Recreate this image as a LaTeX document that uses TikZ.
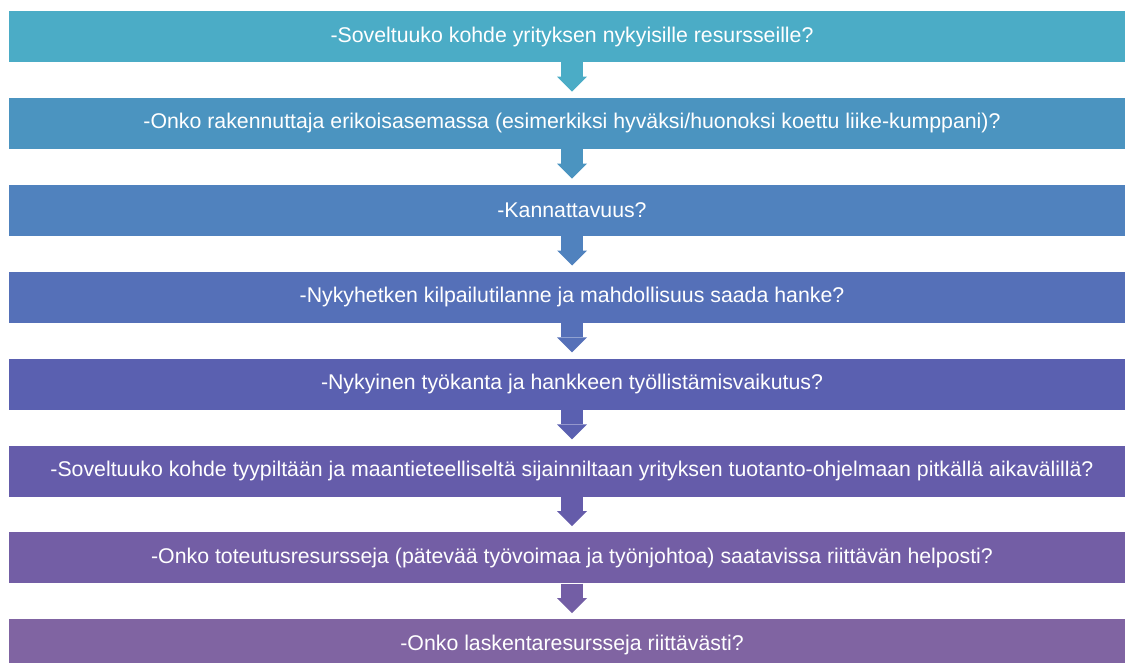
\documentclass[tikz,border=0pt]{standalone}
\usepackage{fontspec}
\setmainfont{Liberation Sans}
\usetikzlibrary{positioning, arrows.meta}

\definecolor{c1}{RGB}{75,172,198}
\definecolor{c2}{RGB}{75,148,192}
\definecolor{c3}{RGB}{80,130,190}
\definecolor{c4}{RGB}{85,112,184}
\definecolor{c5}{RGB}{90,96,176}
\definecolor{c6}{RGB}{101,92,170}
\definecolor{c7}{RGB}{115,94,165}
\definecolor{c8}{RGB}{128,100,162}

\begin{document}
\begin{tikzpicture}[x=1pt, y=-1pt]
    \tikzstyle{step box} = [rectangle, minimum width=1126pt, minimum height=51pt, inner sep=0pt, text=white, font=\fontsize{21.3}{24}\selectfont];
    \tikzstyle{down} = [line width=22pt, shorten >=6pt, -{Triangle[width=30pt, length=15pt, line width=0pt]}];

    \useasboundingbox (0, 0) rectangle (1125, 662);
    \clip (0, 0) rectangle (1125, 662);

    \node[step box, fill=c1] (q1) at (572, 36.5) {-Soveltuuko kohde yrityksen nykyisille resursseille?};
    \node[step box, fill=c2, below = 35.5pt of q1] (q2) {-Onko rakennuttaja erikoisasemassa (esimerkiksi hyväksi/huonoksi koettu liike-kumppani)?};
    \node[step box, fill=c3, below = 35.5pt of q2] (q3) {-Kannattavuus?};
    \node[step box, fill=c4, below = 35.5pt of q3] (q4) {-Nykyhetken kilpailutilanne ja mahdollisuus saada hanke?};
    \node[step box, fill=c5, below = 35.5pt of q4] (q5) {-Nykyinen työkanta ja hankkeen työllistämisvaikutus?};
    \node[step box, fill=c6, below = 35.5pt of q5] (q6) {-Soveltuuko kohde tyypiltään ja maantieteelliseltä sijainniltaan yrityksen tuotanto-ohjelmaan pitkällä aikavälillä?};
    \node[step box, fill=c7, below = 35.5pt of q6] (q7) {-Onko toteutusresursseja (pätevää työvoimaa ja työnjohtoa) saatavissa riittävän helposti?};
    \node[step box, fill=c8, below = 35.5pt of q7] (q8) {-Onko laskentaresursseja riittävästi?};

    \draw[down, c1] (q1) -- (q2);
    \draw[down, c2] (q2) -- (q3);
    \draw[down, c3] (q3) -- (q4);
    \draw[down, c4] (q4) -- (q5);
    \draw[down, c5] (q5) -- (q6);
    \draw[down, c6] (q6) -- (q7);
    \draw[down, c7] (q7) -- (q8);
\end{tikzpicture}
\end{document}
